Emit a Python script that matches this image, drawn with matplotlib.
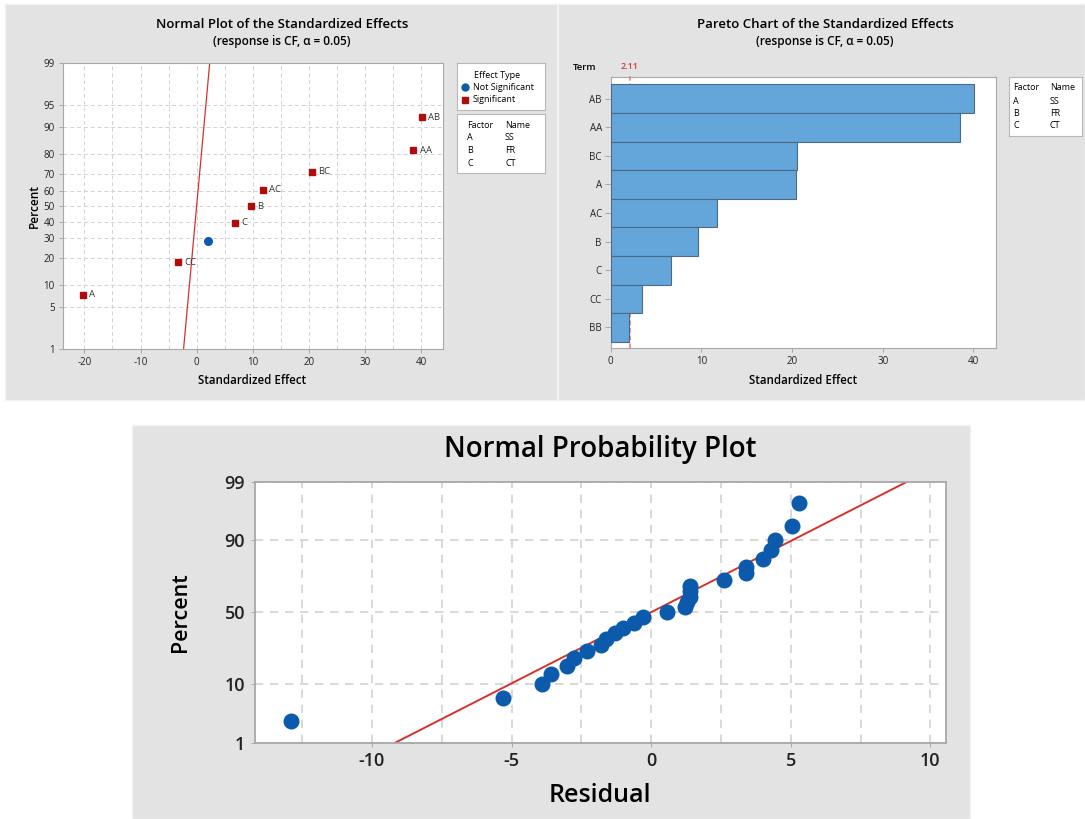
import numpy as np
import matplotlib.pyplot as plt
from matplotlib.patches import Rectangle
from statistics import NormalDist

plt.rcParams['font.family'] = ['Open Sans', 'DejaVu Sans']
plt.rcParams['axes.unicode_minus'] = False

W, H = 1085, 819

# standardized effects (normal plot, sorted by percent)
effect_terms = ['A', 'CC', 'BB', 'C', 'B', 'AC', 'BC', 'AA', 'AB']
effect_values = [-20.3, -3.3, 2.0, 6.8, 9.6, 11.8, 20.6, 38.6, 40.2]
effect_percent = [7.4, 18.1, 28.7, 39.4, 50.0, 60.6, 71.3, 81.9, 92.6]
effect_significant = [True, True, False, True, True, True, True, True, True]

# pareto of absolute effects
pareto_terms = ['AB', 'AA', 'BC', 'A', 'AC', 'B', 'C', 'CC', 'BB']
pareto_values = [40.1, 38.5, 20.5, 20.4, 11.7, 9.6, 6.6, 3.4, 1.98]
t_critical = 2.11

factor_codes = ['A', 'B', 'C']
factor_names = ['SS', 'FR', 'CT']

# residuals and their plotting positions
residuals = [-12.9, -5.3, -3.9, -3.6, -3.0, -2.75, -2.3, -1.8, -1.6, -1.3,
             -1.0, -0.6, -0.3, 0.55, 1.2, 1.3, 1.4, 1.4, 1.4, 2.6,
             3.4, 3.4, 4.0, 4.3, 4.45, 5.05, 5.3]
residual_percent = [2.6, 6.2, 9.9, 13.5, 17.1, 20.8, 24.5, 28.1, 31.8, 35.4,
                    39.1, 42.7, 46.4, 50.0, 53.6, 57.3, 61.0, 64.6, 68.2, 71.9,
                    75.5, 79.2, 82.9, 86.5, 90.2, 93.8, 97.4]
fit_mean, fit_sd = 0.0, 3.94

PANEL = '#e3e3e3'
GRID = '#d2d2d2'
SPINE = '#a8a8a8'
RED = '#d8312b'
BLUE = '#0b5aab'
DARKRED = '#b10c0c'

_nd = NormalDist()
_ppf = np.vectorize(lambda p: _nd.inv_cdf(min(max(p / 100.0, 1e-9), 1 - 1e-9)), otypes=[float])
_cdf = np.vectorize(lambda z: 100.0 * _nd.cdf(z), otypes=[float])

fig = plt.figure(figsize=(W / 100, H / 100), dpi=100)


def px_axes(l, t, r, b, **kw):
    return fig.add_axes([l / W, 1 - b / H, (r - l) / W, (b - t) / H], **kw)


def panel(l, t, r, b):
    fig.patches.append(Rectangle((l / W, 1 - b / H), (r - l) / W, (b - t) / H,
                                 transform=fig.transFigure, facecolor=PANEL,
                                 edgecolor='#f2f2f2', lw=1, zorder=-5))


def ftext(x, y, s, **kw):
    kw.setdefault('ha', 'center')
    kw.setdefault('va', 'center')
    fig.text(x / W, 1 - y / H, s, **kw)


def box(l, t, r, b):
    ax = px_axes(l, t, r, b)
    ax.set_xlim(l, r)
    ax.set_ylim(b, t)
    ax.set_xticks([])
    ax.set_yticks([])
    for sp in ax.spines.values():
        sp.set_color('#b8b8b8')
        sp.set_linewidth(0.8)
    return ax


def style_frame(ax, size):
    for sp in ax.spines.values():
        sp.set_color(SPINE)
        sp.set_linewidth(0.8)
    ax.tick_params(colors=SPINE, labelcolor='#222222', labelsize=size, length=3, width=0.7, pad=2.5)


panel(5, 4, 557, 400)
panel(558, 4, 1085, 400)
panel(132, 425, 970, 819)

# ---- normal plot of the standardized effects
ax1 = px_axes(62.5, 63.3, 443, 349)
ax1.set_yscale('function', functions=(_ppf, _cdf))
ax1.set_ylim(1, 99)
ax1.set_xlim(-23.9, 43.9)
ax1.set_yticks([1, 5, 10, 20, 30, 40, 50, 60, 70, 80, 90, 95, 99])
ax1.set_yticklabels(['1', '5', '10', '20', '30', '40', '50', '60', '70', '80', '90', '95', '99'])
ax1.yaxis.set_minor_locator(plt.NullLocator())
ax1.set_xticks([-20, -10, 0, 10, 20, 30, 40])
ax1.set_xticks(np.arange(-20, 45, 5), minor=True)
ax1.tick_params(axis='x', which='minor', length=0)
ax1.grid(True, which='both', color=GRID, ls=(0, (4, 3)), lw=0.7)
ax1.set_axisbelow(True)
style_frame(ax1, 7)

z_ends = [_nd.inv_cdf(0.01), _nd.inv_cdf(0.99)]
ax1.plot(z_ends, [1, 99], color=RED, lw=0.9, zorder=2)
for term, x, p, sig in zip(effect_terms, effect_values, effect_percent, effect_significant):
    if sig:
        ax1.plot(x, p, 's', ms=4.5, color=DARKRED, zorder=3)
        ax1.annotate(term, (x, p), xytext=(4.5, 0), textcoords='offset points',
                     va='center', fontsize=6.8, color='#333333')
    else:
        ax1.plot(x, p, 'o', ms=5.5, color=BLUE, zorder=3)

ftext(282, 24, 'Normal Plot of the Standardized Effects', fontsize=9.5, fontweight='semibold')
ftext(282, 42, '(response is CF, \u03b1 = 0.05)', fontsize=8.5, fontweight='semibold')
ftext(252, 380, 'Standardized Effect', fontsize=8.3, fontweight='semibold')
ftext(34, 206, 'Percent', fontsize=8.5, fontweight='semibold', rotation=90)

lg = box(457, 63, 545, 110)
lg.text(497, 75, 'Effect Type', fontsize=6.5, ha='center', va='center', fontweight='medium')
lg.plot(465, 87, 'o', ms=5, color=BLUE)
lg.text(473, 87, 'Not Significant', fontsize=6.5, va='center', fontweight='medium')
lg.plot(465, 100, 's', ms=4, color=DARKRED)
lg.text(473, 100, 'Significant', fontsize=6.5, va='center', fontweight='medium')

fb = box(457, 114, 545, 173)
fb.text(467, 126, 'Factor', fontsize=6.5, va='center')
fb.text(505, 126, 'Name', fontsize=6.5, va='center')
for i, (code, name) in enumerate(zip(factor_codes, factor_names)):
    fb.text(467, 138 + 12.5 * i, code, fontsize=6.5, va='center')
    fb.text(505, 138 + 12.5 * i, name, fontsize=6.5, va='center')

# ---- pareto chart
ax2 = px_axes(610.8, 76.7, 996, 348.3)
pos = np.arange(len(pareto_terms))
ax2.barh(pos, pareto_values, height=1.0, color='#65a6da', edgecolor='#4b6a88',
         linewidth=0.8, zorder=3)
ax2.axvline(t_critical, ymin=0, ymax=1.012, color='#f07272', ls=(0, (3, 2)),
            lw=1.1, clip_on=False, zorder=2)
ax2.text(t_critical, 1.02, f'{t_critical:.2f}', transform=ax2.get_xaxis_transform(),
         color='#d33a3a', fontsize=6.5, ha='center', va='bottom', fontweight='semibold')
ax2.set_yticks(pos)
ax2.set_yticklabels(pareto_terms)
ax2.set_ylim(len(pareto_terms) - 0.5 + 0.23, -0.77)
ax2.set_xlim(0, 42.5)
ax2.set_xticks([0, 10, 20, 30, 40])
style_frame(ax2, 7)
ax2.tick_params(axis='y', length=4)

ftext(825, 24, 'Pareto Chart of the Standardized Effects', fontsize=9.5, fontweight='semibold')
ftext(825, 42, '(response is CF, \u03b1 = 0.05)', fontsize=8.5, fontweight='semibold')
ftext(803, 380, 'Standardized Effect', fontsize=8.3, fontweight='semibold')
ftext(585, 67, 'Term', fontsize=6.8, fontweight='semibold')

pb = box(1009, 77, 1082, 136)
pb.text(1013, 88, 'Factor', fontsize=6.5, va='center')
pb.text(1050, 88, 'Name', fontsize=6.5, va='center')
for i, (code, name) in enumerate(zip(factor_codes, factor_names)):
    pb.text(1013, 101 + 12.5 * i, code, fontsize=6.5, va='center')
    pb.text(1050, 101 + 12.5 * i, name, fontsize=6.5, va='center')

# ---- normal probability plot of residuals
ax3 = px_axes(254.7, 481.7, 945.7, 742.7)
ax3.set_yscale('function', functions=(_ppf, _cdf))
ax3.set_ylim(1, 99)
ax3.set_xlim(-14.2, 10.55)
ax3.set_yticks([1, 10, 50, 90, 99])
ax3.set_yticklabels(['1', '10', '50', '90', '99'])
ax3.yaxis.set_minor_locator(plt.NullLocator())
ax3.set_xticks([-10, -5, 0, 5, 10])
ax3.set_xticks(np.arange(-12.5, 10.5, 2.5), minor=True)
ax3.tick_params(axis='x', which='minor', length=0)
ax3.grid(True, which='both', color=GRID, ls=(0, (5, 4)), lw=1.2)
ax3.set_axisbelow(True)
style_frame(ax3, 13)
ax3.tick_params(pad=4)
for sp in ax3.spines.values():
    sp.set_linewidth(1.3)
for lab in ax3.get_xticklabels() + ax3.get_yticklabels():
    lab.set_fontweight('semibold')

z_fit = np.array(z_ends)
ax3.plot(fit_mean + fit_sd * z_fit, [1, 99], color=RED, lw=1.4, zorder=2)
ax3.plot(residuals, residual_percent, 'o', ms=10.5, color=BLUE, zorder=3)

ftext(600, 449, 'Normal Probability Plot', fontsize=20, fontweight='semibold')
ftext(600, 795, 'Residual', fontsize=18, fontweight='semibold')
ftext(181, 612, 'Percent', fontsize=15.5, fontweight='semibold', rotation=90)

fig.savefig('out.png', dpi=100)
